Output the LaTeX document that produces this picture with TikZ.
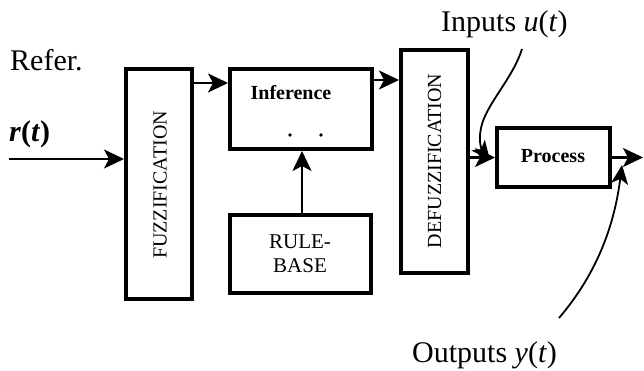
\documentclass[tikz,border=0pt]{standalone}
\usepackage{fontspec}
\setmainfont{Liberation Serif}
\usetikzlibrary{arrows.meta,calc}
\begin{document}
\begin{tikzpicture}[x=1pt,y=-1pt,
  blk/.style={draw, line width=4pt, rectangle, inner sep=0pt},
  arr/.style={-{Stealth[length=20pt,width=19pt,inset=5pt]}, line width=2.2pt},
  carr/.style={-{Stealth[length=19pt,width=17pt,inset=5pt]}, line width=1.8pt},
  big/.style={font=\fontsize{30}{34}\selectfont},
  lab/.style={font=\fontsize{20}{23}\selectfont}]
\useasboundingbox (0,0) rectangle (644,371);
% blocks
\node[blk, minimum width=66pt, minimum height=230pt] (fuzz) at (159,184) {};
\node[lab, rotate=90] (fuzzt) at (160,185) {FUZZIFICATION};
\node[blk, minimum width=142pt, minimum height=80pt] (inf) at (301,109) {};
\node[lab, font=\fontsize{20}{23}\selectfont\bfseries] (inft) at (291,93) {Inference};
\node[blk, minimum width=67pt, minimum height=223pt] (defuzz) at (434.5,161.5) {};
\node[lab, rotate=90] (defuzzt) at (434.5,161) {DEFUZZIFICATION};
\node[blk, minimum width=113pt, minimum height=59pt] (proc) at (553.5,157.5) {};
\node[lab, font=\fontsize{20}{23}\selectfont\bfseries] (proct) at (553,156) {Process};
\node[blk, minimum width=141pt, minimum height=78pt] (rule) at (300,254) {};
\node[lab, align=center, font=\fontsize{21}{24}\selectfont] (rulet) at (300,254) {RULE-\\BASE};
% dots inside inference
\fill (290,135) circle (1.8pt);
\fill (321,135) circle (1.8pt);
% labels
\node[big, anchor=base west, inner sep=0pt] (refer) at (10,71) {Refer.};
\node[big, anchor=base west, inner sep=0pt] (rt) at (9,142) {\textbf{\textit{r}(\textit{t})}};
\node[big, anchor=base west, inner sep=0pt] (inp) at (441,32) {Inputs \textit{u}(\textit{t})};
\node[big, anchor=base west, inner sep=0pt] (outp) at (412,362) {Outputs \textit{y}(\textit{t})};
% coordinates
\coordinate (rin) at (9,159);
\coordinate (pout) at (643,157.5);
\coordinate (ucurve) at (522,49);
\coordinate (umid) at (481,128);
\coordinate (utip) at (490,160);
\coordinate (ycurve) at (559,318);
\coordinate (ytip) at (622,165);
% connectors
\draw[arr] (rin) -- (rin -| fuzz.west);
\draw[arr] (fuzz.east |- 0,83) -- (inf.west |- 0,83);
\draw[arr] (inf.east |- 0,80) -- (defuzz.west |- 0,80);
\draw[arr] (rule.north -| 302,0) -- (inf.south -| 302,0);
\draw[arr] (defuzz.east |- proc.west) -- (proc.west);
\draw[arr] (proc.east) -- (pout);
\draw[carr] (ucurve) .. controls (512,80) and (486,104) .. (umid) .. controls (478,142) and (482,150) .. (utip);
\draw[carr] (ycurve) .. controls (600,270) and (615,220) .. (ytip);
\end{tikzpicture}
\end{document}
